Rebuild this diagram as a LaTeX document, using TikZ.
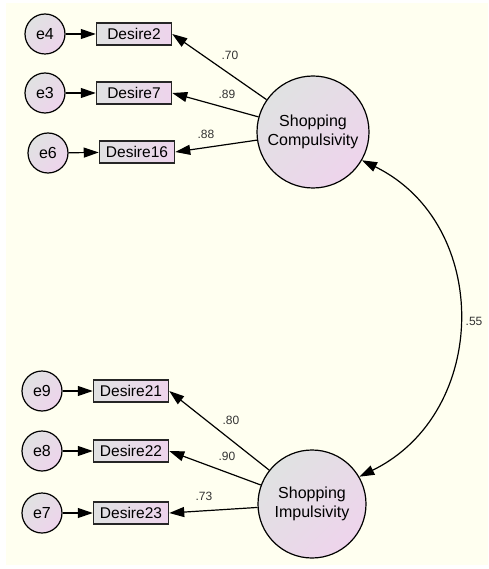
\documentclass[tikz,border=0pt]{standalone}
\usepackage{fontspec}
\setmainfont{Liberation Sans}
\usetikzlibrary{arrows.meta}
\definecolor{paper}{RGB}{255,255,240}
\definecolor{shadeA}{RGB}{224,226,226}
\definecolor{shadeB}{RGB}{238,212,236}
\begin{document}
\begin{tikzpicture}[x=1pt,y=-1pt,
  factor/.style={circle, draw=black, line width=1.2pt, inner sep=0pt,
    top color=shadeA, bottom color=shadeB, shading angle=45,
    align=center, font=\fontsize{16}{19.5}\selectfont},
  errterm/.style={circle, draw=black, line width=1.2pt, inner sep=0pt,
    minimum size=40pt, top color=shadeA, bottom color=shadeB, shading angle=45,
    font=\fontsize{16}{18}\selectfont},
  indicator/.style={rectangle, draw=black!85, line width=1.5pt, inner sep=0pt,
    minimum width=75pt, minimum height=22pt,
    left color=shadeA, right color=shadeB,
    font=\fontsize{15.5}{17}\selectfont},
  path/.style={line width=1.2pt, -{Triangle[length=15pt,width=10pt]}},
  cov/.style={line width=1.2pt, {Triangle[length=15pt,width=10pt]}-{Triangle[length=15pt,width=10pt]}},
  coef/.style={font=\fontsize{12}{14}\selectfont, text=black!80, inner sep=0pt}]

% page and background
\useasboundingbox (0,0) rectangle (488,569);
\fill[white] (0,0) rectangle (488,569);
\fill[paper] (6,3) rectangle (488,565);

% latent factors
\node[factor, minimum size=112pt] (comp) at (313,132) {Shopping\\Compulsivity};
\node[factor, minimum size=108pt] (imp) at (312,504) {Shopping\\Impulsivity};

% observed indicators
\node[indicator] (d2)  at (134,34)  {Desire2};
\node[indicator] (d7)  at (134,93)  {Desire7};
\node[indicator] (d16) at (137,152) {Desire16};
\node[indicator] (d21) at (131,391) {Desire21};
\node[indicator] (d22) at (131,451) {Desire22};
\node[indicator] (d23) at (131,513) {Desire23};

% error terms
\node[errterm] (e4) at (45,34)  {e4};
\node[errterm] (e3) at (45,93)  {e3};
\node[errterm] (e6) at (48,153) {e6};
\node[errterm] (e9) at (42,391) {e9};
\node[errterm] (e8) at (42,451) {e8};
\node[errterm] (e7) at (42,513) {e7};

% error paths
\draw[path] (e4) -- (d2);
\draw[path] (e3) -- (d7);
\draw[path] (e6) -- (d16);
\draw[path] (e9) -- (d21);
\draw[path] (e8) -- (d22);
\draw[path] (e7) -- (d23);

% factor loadings
\draw[path] (comp) -- (d2.east);
\draw[path] (comp) -- (d7.east);
\draw[path] (comp) -- (d16.east);
\draw[path] (imp) -- (d21.east);
\draw[path] (imp) -- (d22.east);
\draw[path] (imp) -- (d23.east);

% correlation between factors
\draw[cov] (comp.-30) .. controls (492,224) and (490,413) .. (imp.30);

% estimates
\node[coef] (l70) at (230,55)  {.70};
\node[coef] (l89) at (227,94)  {.89};
\node[coef] (l88) at (206,134) {.88};
\node[coef] (l80) at (231,420) {.80};
\node[coef] (l90) at (227,456) {.90};
\node[coef] (l73) at (204,496) {.73};
\node[coef] (l55) at (474,321) {.55};
\end{tikzpicture}
\end{document}
